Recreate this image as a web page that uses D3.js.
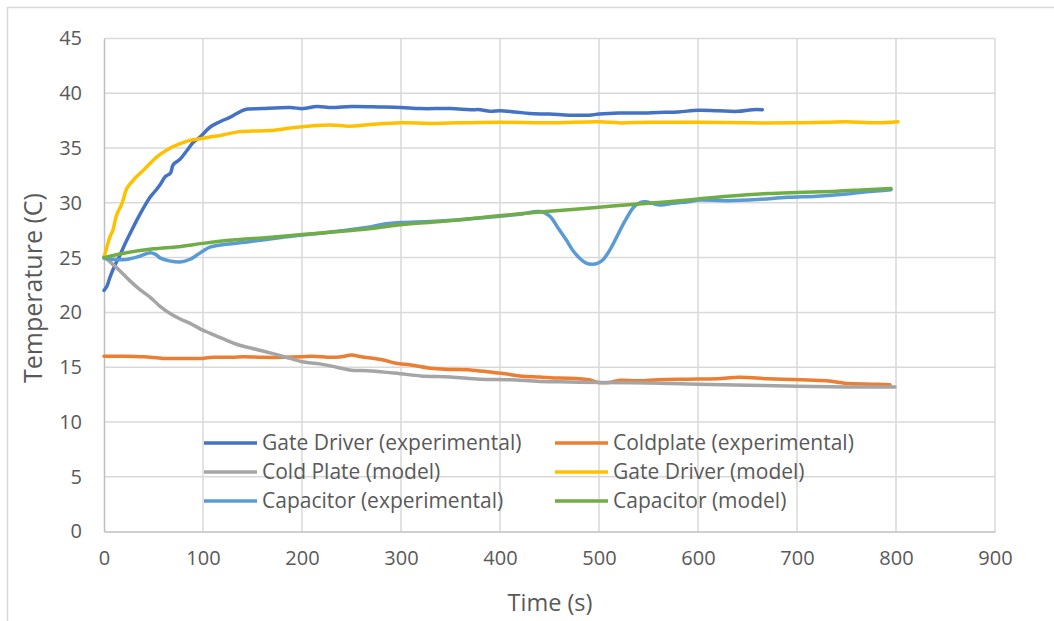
<!DOCTYPE html>
<html><head><meta charset="utf-8">
<script src="https://cdn.jsdelivr.net/npm/d3@7"></script>
<style>body{margin:0;background:#fff}svg{display:block}text{font-family:"Open Sans",sans-serif;fill:#595959}</style>
</head><body><svg id="c" width="1054" height="621"></svg>
<script>
const seriesNames = ["Gate Driver (experimental)","Coldplate (experimental)","Cold Plate (model)","Gate Driver (model)","Capacitor (experimental)","Capacitor (model)"];
const seriesColors = ["#4472C4","#ED7D31","#A5A5A5","#FFC000","#5B9BD5","#70AD47"];
const xTicks = [0,100,200,300,400,500,600,700,800,900];
const yTicks = [0,5,10,15,20,25,30,35,40,45];

const gateExpT = [0,3,6,11,16,22,28,36,46.5,52,57,62,67,70,77,84,90,97,107,117,127,135,142,160,188,201,215,230,250,280,300,320,350,370,380,390,400,415,430,450,470,490,500,520,540,560,580,600,620,640,655,665];
const gateExpV = [22.0,22.4,23.2,24.3,25.2,26.4,27.5,28.9,30.5,31.1,31.7,32.4,32.7,33.5,34.0,34.8,35.5,36.0,36.9,37.4,37.8,38.2,38.5,38.6,38.7,38.6,38.8,38.7,38.8,38.75,38.7,38.6,38.6,38.5,38.5,38.35,38.4,38.3,38.15,38.1,38.0,38.0,38.1,38.2,38.2,38.25,38.3,38.45,38.4,38.35,38.5,38.5];

const coldExpT = [0,20,40,60,80,100,110,130,140,160,180,200,210,230,240,250,260,280,295,310,330,345,370,390,405,420,440,460,480,490,500,510,521,540,560,590,620,642,670,703,730,753,775,794];
const coldExpV = [16.0,16.0,15.95,15.8,15.8,15.8,15.9,15.9,15.95,15.9,15.9,15.95,16.0,15.9,15.95,16.1,15.95,15.7,15.35,15.2,14.9,14.8,14.75,14.55,14.4,14.2,14.1,14.0,13.95,13.85,13.6,13.6,13.8,13.75,13.85,13.9,13.95,14.07,13.95,13.85,13.75,13.5,13.45,13.4];

const coldModT = [0,5,10,16,26,36,46.5,56,66.7,77,87,97,107,120,137,150,168,188,200,218,235,248,270,299,320,350,380,410,440,470,500,550,600,650,700,750,799];
const coldModV = [25.1,24.7,24.3,23.8,22.9,22.1,21.4,20.6,19.9,19.4,19.0,18.5,18.1,17.6,17.0,16.7,16.3,15.8,15.5,15.3,15.0,14.75,14.65,14.4,14.2,14.1,13.9,13.85,13.7,13.65,13.6,13.55,13.45,13.35,13.25,13.2,13.2];

const gateModT = [0,3,6,9,12.8,18,23,28,33,40,46.5,55,67,77,87,97,107,120,137,150,168,195,228,248,270,300,330,360,400,450,500,520,550,600,650,700,730,750,780,802];
const gateModV = [25,26.0,26.9,27.5,28.9,29.9,31.3,31.9,32.4,33.0,33.6,34.3,35.0,35.4,35.7,35.85,36.0,36.2,36.5,36.55,36.6,36.9,37.1,37.0,37.15,37.3,37.25,37.3,37.35,37.3,37.4,37.3,37.35,37.35,37.3,37.3,37.35,37.4,37.3,37.4];

const capExpT = [0,19.5,35,46.5,52,57,66,77,87,95,100,107,114,137,160,184.5,210,240,265,285,300,330,360,390,420,440,450,458,467,474,481,487,493,499,504,511,518,526,535,541,547,554,562,575,590,602,630,660,690,720,750,770,795];
const capExpV = [24.95,24.8,25.1,25.45,25.3,24.95,24.7,24.6,24.85,25.3,25.6,25.95,26.1,26.35,26.6,26.9,27.15,27.45,27.75,28.1,28.2,28.3,28.45,28.7,28.95,29.2,28.8,27.8,26.6,25.6,24.9,24.5,24.4,24.5,24.8,25.7,26.9,28.3,29.6,30.0,30.1,29.95,29.8,29.95,30.1,30.25,30.2,30.3,30.5,30.6,30.8,31.0,31.2];

const capModT = [0,20,50,75,100,130,160,200,240,270,300,340,380,420,460,500,540,570,600,630,670,700,740,770,795];
const capModV = [25,25.4,25.8,26.0,26.3,26.6,26.8,27.1,27.4,27.65,28.0,28.3,28.65,29.0,29.3,29.6,29.9,30.1,30.35,30.6,30.85,30.95,31.05,31.2,31.3];

const seriesT = [gateExpT,coldExpT,coldModT,gateModT,capExpT,capModT];
const seriesV = [gateExpV,coldExpV,coldModV,gateModV,capExpV,capModV];

const svg = d3.select("#c");
const x = d3.scaleLinear().domain([0,900]).range([104,995]);
const y = d3.scaleLinear().domain([0,45]).range([531.5,38.5]);

// outer chart border (top and left visible)
svg.append("path").attr("d","M7.5,621V7.5H1054").attr("fill","none").attr("stroke","#d9d9d9").attr("stroke-width",1.5);

// gridlines
svg.append("g").selectAll("line").data(yTicks.filter(d=>d>0)).join("line")
  .attr("x1",x(0)).attr("x2",x(900)).attr("y1",d=>y(d)).attr("y2",d=>y(d))
  .attr("stroke","#d9d9d9").attr("stroke-width",1.5);
svg.append("g").selectAll("line").data(xTicks.filter(d=>d>0)).join("line")
  .attr("y1",y(0)).attr("y2",y(45)).attr("x1",d=>x(d)).attr("x2",d=>x(d))
  .attr("stroke","#d9d9d9").attr("stroke-width",1.5);

// axes
const xa = svg.append("g").attr("transform",`translate(0,${y(0)})`)
  .call(d3.axisBottom(x).tickValues(xTicks).tickSize(0).tickPadding(19));
xa.select(".domain").attr("stroke","#bfbfbf").attr("stroke-width",1.5);
xa.selectAll("text").attr("font-size",20).attr("fill","#595959").attr("font-family","Open Sans");
const ya = svg.append("g").attr("transform",`translate(${x(0)},0)`)
  .call(d3.axisLeft(y).tickValues(yTicks).tickSize(0).tickPadding(22));
ya.select(".domain").attr("stroke","#bfbfbf").attr("stroke-width",1.5);
ya.selectAll("text").attr("font-size",20).attr("fill","#595959").attr("font-family","Open Sans");

svg.append("text").attr("x",550).attr("y",611).attr("text-anchor","middle").attr("font-size",23.5).text("Time (s)");
svg.append("text").attr("transform","translate(42,288) rotate(-90)").attr("text-anchor","middle").attr("font-size",25).text("Temperature (C)");

// lines
const line = d3.line().x(d=>x(d[0])).y(d=>y(d[1])).curve(d3.curveCatmullRom.alpha(0.5));
seriesNames.forEach((n,i)=>{
  const pts = seriesT[i].map((t,j)=>[t,seriesV[i][j]]);
  svg.append("path").datum(pts).attr("d",line).attr("fill","none")
    .attr("stroke",seriesColors[i]).attr("stroke-width",3.5).attr("stroke-linecap","round").attr("stroke-linejoin","round");
});

// legend
const lg = svg.append("g");
const colX = [204,555], rowY = [443,472,501];
seriesNames.forEach((n,i)=>{
  const cx = colX[i%2], cy = rowY[Math.floor(i/2)];
  lg.append("line").attr("x1",cx).attr("x2",cx+53).attr("y1",cy).attr("y2",cy)
    .attr("stroke",seriesColors[i]).attr("stroke-width",3.5);
  lg.append("text").attr("x",cx+58).attr("y",cy).attr("dy","0.35em").attr("font-size",21).text(n);
});
</script></body></html>
